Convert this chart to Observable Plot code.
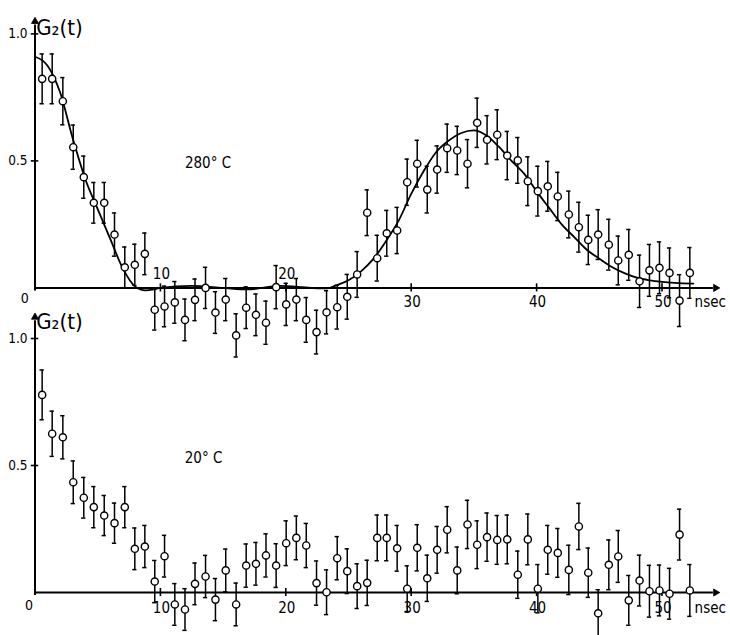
<!DOCTYPE html>
<html>
<head>
<meta charset="utf-8">
<script src="https://cdn.jsdelivr.net/npm/d3@7"></script>
<script src="https://cdn.jsdelivr.net/npm/@observablehq/plot@0.6"></script>
<style>
  body { margin: 0; background: #fff; }
  #wrap { position: relative; width: 730px; height: 635px; }
  #wrap svg { position: absolute; left: 0; top: 0; overflow: visible; }
</style>
</head>
<body>
<div id="wrap"></div>
<script>
// time channels (ns)
const t = [0.57,1.37,2.22,3.05,3.89,4.69,5.52,6.34,7.16,7.96,8.76,9.55,10.33,11.15,11.96,12.76,13.6,14.39,15.21,16.04,16.84,17.62,18.42,19.23,20.03,20.84,21.63,22.45,23.25,24.1,24.9,25.69,26.49,27.29,28.05,28.88,29.68,30.48,31.28,32.07,32.87,33.67,34.49,35.26,36.05,36.86,37.66,38.5,39.3,40.1,40.89,41.69,42.57,43.37,44.12,44.91,45.76,46.51,47.35,48.21,49.0,49.8,50.6,51.4,52.22];

// 280 °C measurement
const g280 = [0.823,0.823,0.735,0.554,0.436,0.335,0.335,0.21,0.081,0.091,0.134,
  -0.086,-0.073,-0.057,-0.126,-0.047,0.0,-0.097,-0.046,-0.187,-0.078,-0.106,-0.137,0.003,-0.065,-0.046,-0.126,-0.174,-0.096,-0.076,-0.035,
  0.053,0.296,0.117,0.215,0.226,0.416,0.489,0.387,0.466,0.55,0.541,0.489,0.65,0.583,0.603,0.521,0.502,0.42,0.381,0.4,0.36,0.289,0.239,0.189,0.21,0.17,0.108,0.13,0.026,0.069,0.079,0.059,-0.05,0.059];
const e280 = [0.098,0.098,0.093,0.087,0.083,0.08,0.08,0.085,0.08,0.081,0.082,
  0.08,0.08,0.082,0.082,0.082,0.081,0.082,0.083,0.085,0.082,0.082,0.085,0.085,0.083,0.083,0.088,0.086,0.085,0.086,0.088,
  0.09,0.09,0.09,0.09,0.091,0.091,0.092,0.092,0.093,0.095,0.095,0.095,0.097,0.095,0.098,0.095,0.09,0.096,0.098,0.098,0.095,0.092,0.098,0.097,0.098,0.1,0.096,0.1,0.103,0.102,0.102,0.098,0.102,0.1];

// fitted curve for 280 °C
const curveT = [0,1,2,3,4,5,6,7,8,8.8,10,12.5,15,17,19.5,22,23.3,24,25,26,27,28,29,30,31,32,33,34,35,36,37,38,39,40,41,42,43,44,45,46,47,48,49,50,51,52.5];
const curveG = [0.91,0.875,0.77,0.59,0.43,0.31,0.193,0.077,0.005,-0.01,0.0,0.008,0.0,-0.006,0.008,0.0,-0.002,0.01,0.03,0.065,0.115,0.185,0.265,0.37,0.46,0.535,0.58,0.61,0.62,0.6,0.555,0.5,0.45,0.38,0.315,0.25,0.2,0.15,0.115,0.082,0.058,0.04,0.03,0.024,0.02,0.017];

// 20 °C measurement
const g20 = [0.778,0.625,0.611,0.434,0.373,0.336,0.303,0.273,0.336,0.172,
  0.181,0.043,0.143,-0.047,-0.067,0.034,0.063,-0.028,0.087,-0.047,
  0.106,0.113,0.146,0.106,0.194,0.215,0.185,0.037,0.001,0.135,
  0.084,0.025,0.038,0.215,0.215,0.174,0.015,0.176,0.056,0.168,
  0.247,0.087,0.268,0.188,0.218,0.207,0.209,0.07,0.209,0.015,
  0.168,0.156,0.089,0.26,0.078,-0.082,0.109,0.142,-0.031,0.047,
  0.005,0.008,-0.005,0.228,0.008];
const e20 = [0.098,0.089,0.085,0.084,0.08,0.081,0.079,0.079,0.081,0.082,
  0.083,0.083,0.082,0.082,0.082,0.082,0.083,0.083,0.084,0.084,
  0.085,0.084,0.085,0.086,0.088,0.086,0.087,0.087,0.088,0.085,
  0.088,0.088,0.089,0.09,0.09,0.09,0.09,0.091,0.091,0.092,
  0.091,0.092,0.095,0.094,0.095,0.096,0.096,0.093,0.1,0.095,
  0.096,0.096,0.097,0.091,0.097,0.093,0.098,0.102,0.098,0.1,
  0.102,0.1,0.1,0.1,0.102];

// axis ticks and labels
const xTicks = [10, 20, 30, 40, 50];
const xTickLabels = ["10", "20", "30", "40", "50"];
const yTicks = [0.5, 1.0];
const yTickLabels = ["0.5", "1.0"];
const yZeroLabel = "0";
const yAxisTitle = "G₂(t)";
const xUnit = "nsec";
const temps = ["280° C", "20° C"];

const font = "'DejaVu Sans Condensed','Liberation Sans Narrow','Liberation Sans','DejaVu Sans',sans-serif";

function panel(cfg) {
  const pts = t.map((d, i) => ({t: d, g: cfg.g[i], e: cfg.e[i]}));
  const ticks = xTicks.map((d, i) => ({x: d, label: xTickLabels[i], y: cfg.tickLabelY[i]}));
  const xEnd = 54.6, yEnd = cfg.yTop;
  const heads = [
    {x: xEnd - 0.32, y: 0, rot: 90},
    {x: 0, y: yEnd - 0.016, rot: 0}
  ];
  const marks = [
    // axes with filled arrowheads
    Plot.ruleY([0], {x1: 0, x2: xEnd - 0.5, strokeWidth: 2}),
    Plot.ruleX([0], {y1: -0.012, y2: yEnd - 0.03, strokeWidth: 2}),
    Plot.dot(heads, {x: "x", y: "y", rotate: "rot", symbol: "triangle2", r: 3.4, fill: "black", stroke: "black", strokeWidth: 0.8}),
    Plot.ruleX(xTicks, {y1: -0.016, y2: 0.016, strokeWidth: 1.6}),
    Plot.ruleY(yTicks, {x1: -0.3, x2: 0.3, strokeWidth: 1.6}),
    Plot.text(ticks, {x: "x", y: "y", text: "label", dx: 1, fontSize: 15}),
    Plot.text([xUnit], {x: 52.6, y: cfg.tickLabelY[4], text: d => d, textAnchor: "start", fontSize: 15}),
    Plot.text(yTicks, {x: -0.6, y: d => d, text: (d, i) => yTickLabels[i], textAnchor: "end", fontSize: 13.5}),
    Plot.text([yZeroLabel], {x: cfg.zeroX, y: cfg.zeroY, text: d => d, textAnchor: "end", fontSize: 14}),
    Plot.text([yAxisTitle], {x: 0.1, y: cfg.titleY, text: d => d, textAnchor: "start", fontSize: 22}),
    Plot.text([cfg.temp], {x: cfg.tempX, y: cfg.tempY, text: d => d, fontSize: 15}),
    // error bars
    Plot.ruleX(pts, {x: "t", y1: d => d.g - d.e, y2: d => d.g + d.e, strokeWidth: 1.5}),
    Plot.ruleY(pts, {y: d => d.g + d.e, x1: d => d.t - 0.17, x2: d => d.t + 0.17, strokeWidth: 1.5}),
    Plot.ruleY(pts, {y: d => d.g - d.e, x1: d => d.t - 0.17, x2: d => d.t + 0.17, strokeWidth: 1.5})
  ];
  if (cfg.curve) {
    marks.push(Plot.line(curveT.map((d, i) => ({t: d, g: curveG[i]})), {x: "t", y: "g", curve: "monotone-x", strokeWidth: 1.8}));
  }
  marks.push(Plot.dot(pts, {x: "t", y: "g", r: 3.6, fill: "white", stroke: "black", strokeWidth: 1.4}));
  return Plot.plot({
    width: 730,
    height: 635,
    x: {domain: [0, 50], range: [34.5, 661.5], axis: null},
    y: {domain: [0, 1], range: cfg.yRange, axis: null},
    style: {background: "transparent", overflow: "visible", fontFamily: font, color: "black"},
    marks
  });
}

const wrap = document.getElementById("wrap");
wrap.appendChild(panel({
  g: g20, e: e20, curve: false, yRange: [592, 338], yTop: 1.1,
  tickLabelY: [-0.063, -0.063, -0.063, -0.063, -0.063],
  zeroX: -0.15, zeroY: -0.05, titleY: 1.067, temp: temps[1], tempX: 13.44, tempY: 0.528
}));
wrap.appendChild(panel({
  g: g280, e: e280, curve: true, yRange: [287.4, 33.4], yTop: 1.065,
  tickLabelY: [0.055, 0.055, -0.058, -0.058, -0.058],
  zeroX: -0.5, zeroY: -0.042, titleY: 1.025, temp: temps[0], tempX: 13.8, tempY: 0.492
}));
</script>
</body>
</html>
